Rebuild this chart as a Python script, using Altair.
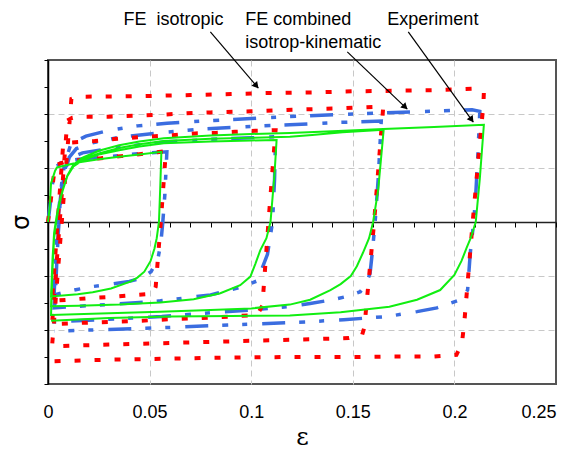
import math
import altair as alt
import pandas as pd

# ---------------- data (strain ε, stress σ in grid units) ----------------
exp_eps = [0, 0.0008, 0.0015, 0.0035, 0.0044, 0.0146, 0.025, 0.035, 0.045, 0.0558,
           0.0552, 0.0546, 0.0535, 0.0524, 0.0505, 0.0474, 0.044, 0.0408, 0.031, 0.022, 0.0146, 0.0015,
           0.0022, 0.003, 0.0042, 0.0055, 0.0072, 0.0095, 0.0125, 0.017, 0.025, 0.035, 0.045, 0.057, 0.08, 0.1, 0.1125,
           0.1115, 0.1095, 0.1075, 0.1045, 0.102, 0.0996, 0.0946, 0.0848, 0.0717, 0.0553, 0.035, 0.015, 0.0015,
           0.0022, 0.003, 0.0042, 0.0055, 0.0072, 0.0095, 0.0125, 0.017, 0.025, 0.035, 0.045, 0.057, 0.08, 0.1, 0.119, 0.13, 0.145, 0.1652,
           0.1625, 0.160, 0.158, 0.155, 0.152, 0.149, 0.144, 0.139, 0.129, 0.119, 0.1, 0.08, 0.055, 0.03, 0.0015,
           0.0022, 0.003, 0.0042, 0.0055, 0.0072, 0.0095, 0.0125, 0.017, 0.025, 0.035, 0.045, 0.057, 0.08, 0.1, 0.119, 0.14, 0.165, 0.19, 0.2145,
           0.2125, 0.2105, 0.208, 0.206, 0.2035, 0.2, 0.193, 0.1816, 0.168, 0.144, 0.119, 0.09, 0.06, 0.03, 0.0015]
exp_sig = [0, 0.25, 0.72, 0.95, 1.01, 1.10, 1.16, 1.21, 1.25, 1.30,
           0.6, 0.0, -0.3, -0.49, -0.72, -0.92, -1.03, -1.10, -1.23, -1.30, -1.34, -1.38,
           -0.7, -0.2, 0.1, 0.35, 0.59, 0.85, 1.03, 1.14, 1.25, 1.33, 1.40, 1.46, 1.49, 1.51, 1.52,
           0.9, 0.0, -0.3, -0.52, -0.78, -1.01, -1.17, -1.32, -1.43, -1.49, -1.53, -1.55, -1.56,
           -0.8, -0.25, 0.08, 0.33, 0.58, 0.85, 1.04, 1.16, 1.27, 1.37, 1.44, 1.50, 1.54, 1.56, 1.58, 1.61, 1.66, 1.71,
           0.6, 0.0, -0.3, -0.57, -0.82, -1.0, -1.15, -1.26, -1.44, -1.53, -1.60, -1.63, -1.66, -1.69, -1.72,
           -0.9, -0.3, 0.05, 0.32, 0.58, 0.86, 1.06, 1.19, 1.32, 1.42, 1.49, 1.55, 1.60, 1.63, 1.65, 1.68, 1.72, 1.76, 1.80,
           0.8, 0.0, -0.3, -0.48, -0.72, -0.98, -1.26, -1.44, -1.57, -1.67, -1.73, -1.74, -1.75, -1.78, -1.83]

comb_eps = [0, 0.001, 0.0025, 0.004, 0.007, 0.015, 0.027, 0.04, 0.05, 0.0585,
            0.0575, 0.0565, 0.0555, 0.054, 0.0507, 0.046, 0.04, 0.031, 0.021, 0.013, 0.003,
            0.0042, 0.0055, 0.007, 0.009, 0.012, 0.017, 0.03, 0.045, 0.057, 0.08, 0.1, 0.112,
            0.1115, 0.1105, 0.108, 0.103, 0.0946, 0.08, 0.0667, 0.0553, 0.045, 0.03, 0.015, 0.003,
            0.0045, 0.006, 0.008, 0.0105, 0.014, 0.02, 0.035, 0.057, 0.075, 0.1, 0.119, 0.14, 0.164,
            0.1625, 0.161, 0.1595, 0.1585, 0.1565, 0.1537, 0.147, 0.14, 0.129, 0.12, 0.1, 0.08, 0.056, 0.03, 0.003,
            0.0045, 0.006, 0.008, 0.0113, 0.0187, 0.0293, 0.044, 0.0586, 0.0815, 0.1176, 0.157, 0.195, 0.2087, 0.2125,
            0.2115, 0.2105, 0.2095, 0.2078, 0.207, 0.2065, 0.2035, 0.1914, 0.1816, 0.167, 0.1455, 0.127, 0.1, 0.08, 0.055, 0.03, 0.003]
comb_sig = [0, 0.3, 0.8, 1.02, 1.12, 1.16, 1.20, 1.25, 1.28, 1.30,
            0.5, 0.0, -0.4, -0.7, -0.92, -1.04, -1.10, -1.15, -1.20, -1.26, -1.35,
            -0.4, 0.3, 0.8, 1.05, 1.2, 1.28, 1.36, 1.43, 1.48, 1.53, 1.56, 1.58,
            0.8, 0.0, -0.6, -1.09, -1.21, -1.35, -1.41, -1.46, -1.49, -1.53, -1.56, -1.59,
            -0.5, 0.3, 0.9, 1.2, 1.36, 1.45, 1.57, 1.66, 1.72, 1.77, 1.80, 1.84, 1.87,
            0.8, 0.0, -0.6, -0.95, -1.15, -1.29, -1.38, -1.44, -1.51, -1.56, -1.63, -1.68, -1.75, -1.80, -1.85,
            -0.6, 0.4, 1.05, 1.45, 1.59, 1.69, 1.78, 1.83, 1.88, 1.95, 2.01, 2.06, 2.08, 2.05,
            1.2, 0.5, 0.0, -0.58, -1.0, -1.26, -1.43, -1.59, -1.66, -1.75, -1.81, -1.85, -1.89, -1.92, -1.96, -1.99, -2.02]

iso_eps = [0, 0.0035, 0.008, 0.016, 0.026, 0.036, 0.046, 0.058,
           0.0555, 0.053, 0.0515, 0.04, 0.03, 0.02, 0.01, 0.002,
           0.0075, 0.01, 0.015, 0.023, 0.034, 0.045, 0.0626, 0.0725, 0.0825, 0.092, 0.102, 0.112,
           0.1085, 0.1055, 0.103, 0.09, 0.075, 0.06, 0.045, 0.03, 0.015, 0.002,
           0.0095, 0.012, 0.016, 0.03, 0.045, 0.057, 0.067, 0.08, 0.1, 0.12, 0.14, 0.165,
           0.1605, 0.1557, 0.1545, 0.148, 0.13, 0.11, 0.09, 0.07, 0.05, 0.03, 0.002,
           0.0115, 0.0146, 0.045, 0.07, 0.09, 0.11, 0.13, 0.15, 0.17, 0.19, 0.2115, 0.2145, 0.2143,
           0.209, 0.2049, 0.2037, 0.201, 0.19, 0.17, 0.15, 0.12, 0.09, 0.06, 0.03, 0.002]
iso_sig = [0, 1.05, 1.11, 1.15, 1.18, 1.22, 1.26, 1.31,
           0.0, -1.2, -1.33, -1.36, -1.39, -1.41, -1.44, -1.46,
           1.45, 1.47, 1.48, 1.50, 1.54, 1.57, 1.61, 1.64, 1.65, 1.67, 1.69, 1.70,
           0.0, -1.55, -1.72, -1.75, -1.78, -1.80, -1.83, -1.85, -1.87, -1.89,
           1.88, 1.93, 1.95, 1.95, 1.97, 1.99, 2.01, 2.03, 2.05, 2.08, 2.10, 2.14,
           0.0, -1.95, -2.10, -2.15, -2.17, -2.19, -2.21, -2.23, -2.25, -2.27, -2.30,
           2.28, 2.32, 2.33, 2.35, 2.37, 2.39, 2.40, 2.42, 2.43, 2.44, 2.47, 2.40, 2.20,
           0.0, -1.85, -2.25, -2.46, -2.49, -2.49, -2.50, -2.50, -2.51, -2.53, -2.55, -2.58]

# annotations (data coordinates) and arrows
note_text = ["FE\u00a0\u00a0isotropic", "FE combined", "isotrop-kinematic", "Experiment"]
note_eps = [0.0371, 0.0971, 0.0971, 0.167]
note_sig = [3.65, 3.65, 3.22, 3.65]

arrow_eps0 = [0.0799, 0.1473, 0.1773]
arrow_sig0 = [3.52, 3.15, 3.52]
arrow_eps1 = [0.1035, 0.1768, 0.2093]
arrow_sig1 = [2.48, 2.09, 1.85]

x_ticks = [round(i * 0.01, 2) for i in range(26)]
y_ticks = [-3 + 0.5 * i for i in range(13)]

# ---------------- chart ----------------
W, H = 508, 324
XD, YD = [0, 0.25], [-3, 3]

x_axis = alt.Axis(
    orient="bottom", offset=-H / 2, values=x_ticks,
    tickSize=5, tickColor="black", tickWidth=1,
    domainColor="#222", domainWidth=1.5,
    labelExpr="round(datum.value*100) % 5 == 0 ? format(datum.value, '~g') : ''",
    labelPadding=H / 2 + 14, labelFontSize=18, labelFont="Liberation Sans", labelColor="black",
    labelFlush=False, labelOverlap=False,
    labelAlign={"condition": {"test": "datum.value > 0.249", "value": "right"}, "value": "center"},
    grid=True, gridColor="#c8c8c8", gridDash=[6, 4], gridWidth=1,
    gridOpacity={"condition": {"test": "round(datum.value*100) % 5 == 0 && datum.value > 0.001 && datum.value < 0.249", "value": 1}, "value": 0},
    title="ε", titleFontSize=24, titleFont="DejaVu Serif", titleFontWeight="normal",
    titleColor="black", titlePadding=4,
)
y_axis = alt.Axis(
    orient="left", values=y_ticks, tickSize=4, tickColor="black", labels=False,
    domainColor="black", domainWidth=1.5,
    grid=True, gridColor="#c8c8c8", gridDash=[6, 4], gridWidth=1,
    gridOpacity={"condition": {"test": "abs(datum.value) > 0.5 && abs(datum.value) < 2.9 && datum.value % 1 == 0", "value": 1}, "value": 0},
    title="σ", titleFontSize=24, titleFont="DejaVu Sans", titleFontWeight="normal",
    titleColor="black", titlePadding=10,
)

X = alt.X("x:Q", scale=alt.Scale(domain=XD, nice=False, zero=False), axis=x_axis)
Y = alt.Y("y:Q", scale=alt.Scale(domain=YD, nice=False, zero=False), axis=y_axis)


def path(eps, sig):
    return pd.DataFrame({"x": eps, "y": sig, "i": list(range(len(eps)))})


comb = alt.Chart(path(comb_eps, comb_sig)).mark_line(
    color="#3b6de0", strokeWidth=3.5, strokeDash=[23, 15, 5, 14, 6, 14]
).encode(x=X, y=Y, order="i:Q")
iso = alt.Chart(path(iso_eps, iso_sig)).mark_line(
    color="#ff0000", strokeWidth=4, strokeDash=[6, 14]
).encode(x=X, y=Y, order="i:Q")
exp = alt.Chart(path(exp_eps, exp_sig)).mark_line(
    color="#11ee11", strokeWidth=2
).encode(x=X, y=Y, order="i:Q")

notes = alt.Chart(pd.DataFrame({"x": note_eps, "y": note_sig, "t": note_text})).mark_text(
    align="left", baseline="alphabetic", fontSize=18, font="Liberation Sans", color="black"
).encode(x=X, y=Y, text="t:N")

arrows_df = pd.DataFrame({"x": arrow_eps0, "y": arrow_sig0, "x2": arrow_eps1, "y2": arrow_sig1})
arrows = alt.Chart(arrows_df).mark_rule(color="black", strokeWidth=1.2).encode(
    x=X, y=Y, x2="x2:Q", y2="y2:Q"
)

# arrow heads: derived from the arrow end points
kx = W / (XD[1] - XD[0])
ky = H / (YD[1] - YD[0])
hx, hy, ang = [], [], []
for a0, b0, a1, b1 in zip(arrow_eps0, arrow_sig0, arrow_eps1, arrow_sig1):
    dx = (a1 - a0) * kx
    dy = -(b1 - b0) * ky
    L = math.hypot(dx, dy)
    ux, uy = dx / L, dy / L
    back = 4.0
    hx.append(a1 - ux * back / kx)
    hy.append(b1 + uy * back / ky)
    ang.append(math.degrees(math.atan2(dx, -dy)) % 360)
heads = alt.Chart(pd.DataFrame({"x": hx, "y": hy, "a": ang})).mark_point(
    shape="triangle", filled=True, color="black", size=55, opacity=1
).encode(x=X, y=Y, angle=alt.Angle("a:Q", scale=None))

chart = alt.layer(comb, iso, exp, arrows, heads, notes).properties(
    width=W, height=H,
    autosize=alt.AutoSizeParams(type="none"),
    padding={"left": 40, "top": 52, "right": 5, "bottom": 65},
).configure_view(stroke="#555", strokeWidth=2)

chart.save("out.html", embed_options={"renderer": "svg", "actions": False})
